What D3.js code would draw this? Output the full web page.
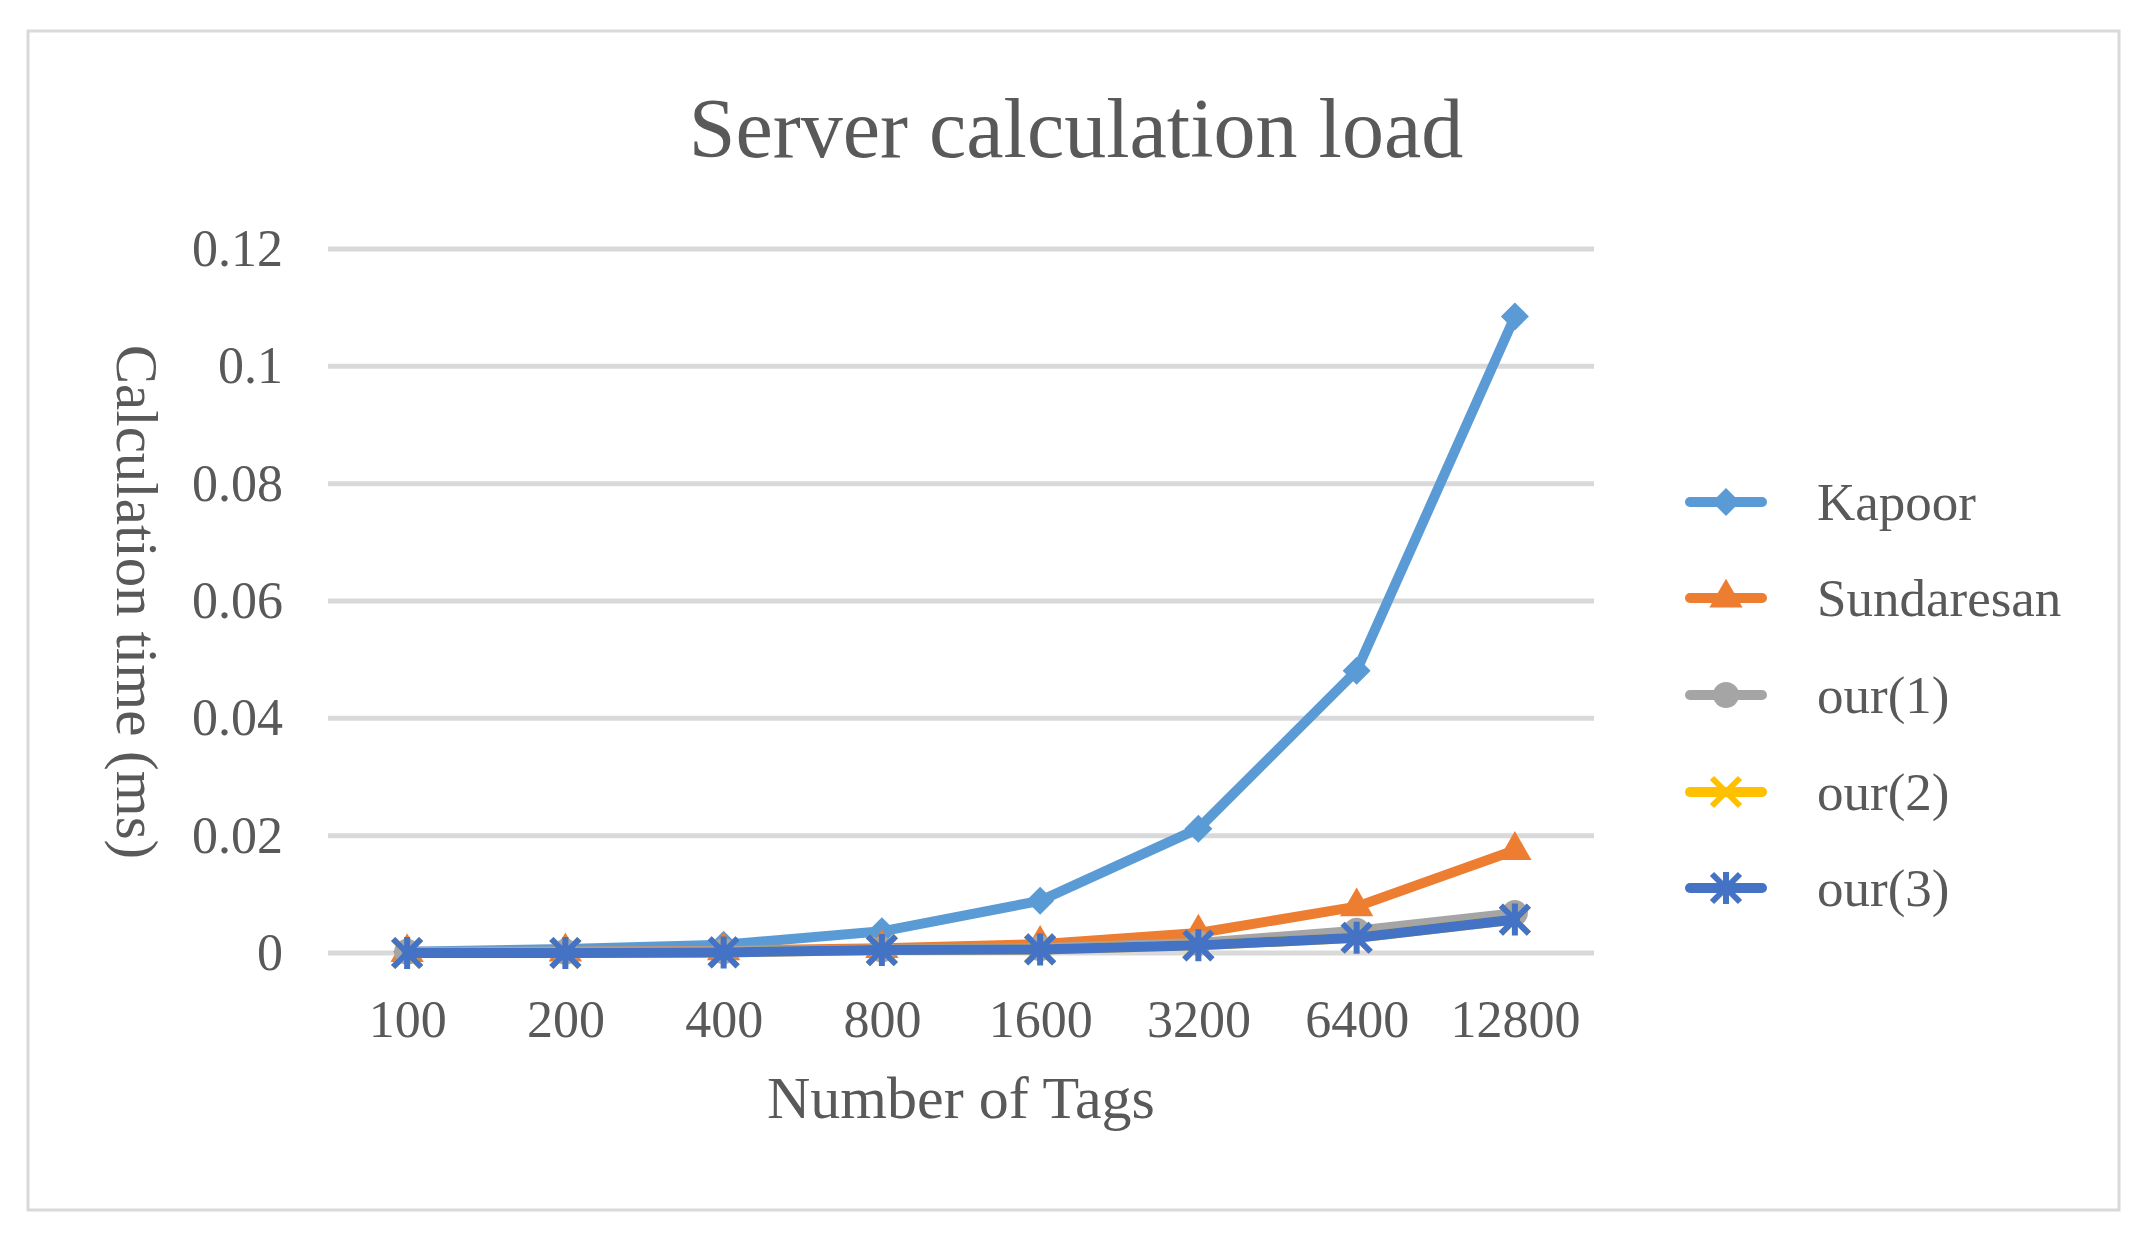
<!DOCTYPE html>
<html>
<head>
<meta charset="utf-8">
<script src="https://cdn.jsdelivr.net/npm/d3@7"></script>
<style>
  html, body { margin: 0; padding: 0; background: #ffffff; }
  svg { display: block; }
  text { font-family: "Liberation Serif", "Times New Roman", serif; fill: #595959; }
</style>
</head>
<body>
<svg id="chart" width="2145" height="1243"></svg>
<script>
const categories = ["100", "200", "400", "800", "1600", "3200", "6400", "12800"];
const kapoor     = [0.0002, 0.0007, 0.0014, 0.0037, 0.0089, 0.0212, 0.0481, 0.1085];
const sundaresan = [0.0001, 0.0002, 0.0004, 0.0008, 0.0015, 0.0034, 0.0079, 0.0175];
const our1       = [0.0002, 0.0002, 0.0003, 0.0006, 0.0008, 0.0017, 0.0038, 0.0068];
const our2       = [0.0000, 0.0000, 0.0001, 0.0005, 0.0006, 0.0013, 0.0026, 0.0057];
const our3       = [0.0000, 0.0000, 0.0001, 0.0005, 0.0006, 0.0013, 0.0026, 0.0057];
const seriesNames = ["Kapoor", "Sundaresan", "our(1)", "our(2)", "our(3)"];
const yTicks = [0, 0.02, 0.04, 0.06, 0.08, 0.1, 0.12];
const titleText = "Server calculation load";
const xTitle = "Number of Tags";
const yTitle = "Calculation time (ms)";

const seriesValues = [kapoor, sundaresan, our1, our2, our3];
const colors = ["#5B9BD5", "#ED7D31", "#A5A5A5", "#FFC000", "#4472C4"];
const markers = ["diamond", "triangle", "circle", "x", "star"];

const svg = d3.select("#chart");

// outer border
svg.append("rect")
  .attr("x", 28).attr("y", 31).attr("width", 2091).attr("height", 1179)
  .attr("fill", "#ffffff").attr("stroke", "#d9d9d9").attr("stroke-width", 3);

const plot = { left: 328, right: 1594, top: 249, bottom: 953 };

const x = d3.scalePoint().domain(categories).range([plot.left, plot.right]).padding(0.5);
const y = d3.scaleLinear().domain([0, 0.12]).range([plot.bottom, plot.top]);

// gridlines
svg.append("g").selectAll("line").data(yTicks).join("line")
  .attr("x1", plot.left).attr("x2", plot.right)
  .attr("y1", d => y(d)).attr("y2", d => y(d))
  .attr("stroke", "#d9d9d9").attr("stroke-width", 5);

// y axis labels
const yAxis = d3.axisLeft(y).tickValues(yTicks).tickSize(0).tickPadding(0)
  .tickFormat(d => d === 0 ? "0" : String(+d.toFixed(2)));
const gy = svg.append("g").attr("transform", `translate(${283},0)`).call(yAxis);
gy.select(".domain").remove();
gy.selectAll("text").attr("font-size", 52).attr("fill", "#595959")
  .style("font-family", '"Liberation Serif", serif');

// x axis labels
const xAxis = d3.axisBottom(x).tickSize(0).tickPadding(0);
const gx = svg.append("g").attr("transform", `translate(0,${1000})`).call(xAxis);
gx.select(".domain").remove();
gx.selectAll("text").attr("font-size", 52).attr("fill", "#595959")
  .attr("dy", "0.71em")
  .style("font-family", '"Liberation Serif", serif');

// titles
svg.append("text").attr("x", 1076).attr("y", 157).attr("text-anchor", "middle")
  .attr("font-size", 84).text(titleText);
svg.append("text").attr("x", 961).attr("y", 1118).attr("text-anchor", "middle")
  .attr("font-size", 60).text(xTitle);
svg.append("text")
  .attr("transform", `translate(137,602) rotate(90)`)
  .attr("text-anchor", "middle").attr("dominant-baseline", "central")
  .attr("font-size", 59).text(yTitle);

// marker drawing
function drawMarker(g, type, color, cx, cy) {
  if (type === "diamond") {
    const s = 14;
    g.append("path").attr("d", `M${cx},${cy - s} L${cx + s},${cy} L${cx},${cy + s} L${cx - s},${cy} Z`)
      .attr("fill", color);
  } else if (type === "triangle") {
    g.append("path").attr("d", d3.symbol().type(d3.symbolTriangle).size(480)())
      .attr("transform", `translate(${cx},${cy})`).attr("fill", color);
  } else if (type === "circle") {
    g.append("circle").attr("cx", cx).attr("cy", cy).attr("r", 13).attr("fill", color);
  } else if (type === "x") {
    const s = 14;
    g.append("path").attr("d", `M${cx - s},${cy - s} L${cx + s},${cy + s} M${cx - s},${cy + s} L${cx + s},${cy - s}`)
      .attr("stroke", color).attr("stroke-width", 6).attr("fill", "none");
  } else if (type === "star") {
    const s = 14;
    g.append("path").attr("d", `M${cx - s},${cy - s} L${cx + s},${cy + s} M${cx - s},${cy + s} L${cx + s},${cy - s} M${cx},${cy - s - 2} L${cx},${cy + s + 2}`)
      .attr("stroke", color).attr("stroke-width", 6).attr("fill", "none");
  }
}

const line = d3.line().x((d, i) => x(categories[i])).y(d => y(d));

seriesValues.forEach((vals, si) => {
  const g = svg.append("g");
  g.append("path").datum(vals).attr("d", line)
    .attr("fill", "none").attr("stroke", colors[si]).attr("stroke-width", 10)
    .attr("stroke-linejoin", "round").attr("stroke-linecap", "round");
  vals.forEach((v, i) => drawMarker(g, markers[si], colors[si], x(categories[i]), y(v)));
});

// legend
const legendY = [502, 598, 695, 792, 888];
seriesNames.forEach((name, si) => {
  const g = svg.append("g");
  const ly = legendY[si];
  g.append("line").attr("x1", 1690).attr("x2", 1762).attr("y1", ly).attr("y2", ly)
    .attr("stroke", colors[si]).attr("stroke-width", 10).attr("stroke-linecap", "round");
  drawMarker(g, markers[si], colors[si], 1726, ly);
  g.append("text").attr("x", 1817).attr("y", ly).attr("dominant-baseline", "central")
    .attr("font-size", 53).text(name);
});
</script>
</body>
</html>
